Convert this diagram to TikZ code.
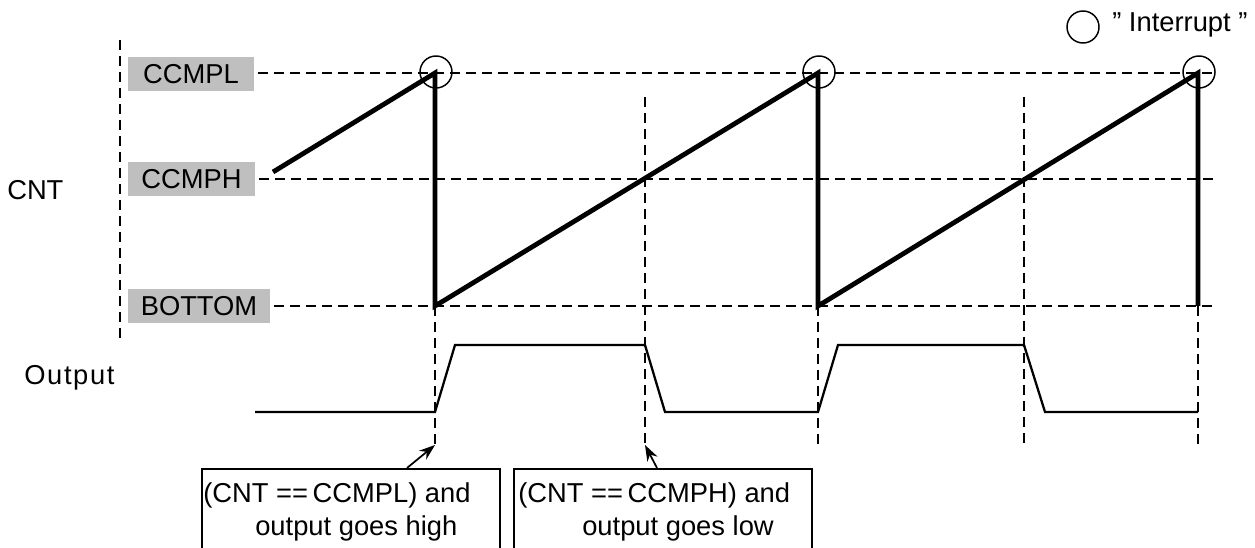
\documentclass[tikz,border=0pt]{standalone}
\usepackage{fontspec}
\setmainfont{Liberation Sans}
\usetikzlibrary{arrows.meta}
\begin{document}
\begin{tikzpicture}[x=0.75pt,y=-0.75pt,
  every node/.style={font=\fontsize{20.5}{24.6}\selectfont, inner sep=0pt},
  lvl/.style={dash pattern=on 7.5pt off 4.5pt, line width=1.35pt},
  ramp/.style={line width=3.6pt, line join=miter},
  wave/.style={line width=1.7pt},
  lab/.style={fill=black!25, minimum height=25.5pt, anchor=center},
  irq/.style={draw, circle, line width=1.1pt, minimum size=24pt},
  note/.style={draw, line width=1.2pt, anchor=north west, minimum width=223.5pt, minimum height=80pt},
  ptr/.style={line width=1.3pt, -{Stealth[length=12pt,width=8.5pt]}}
]
\useasboundingbox (0,0) rectangle (1255,548);

% left axis
\coordinate (axT) at (120,40);
\coordinate (axB) at (120,340);
\draw[lvl] (axT) -- (axB);

% level labels
\node[lab, minimum width=94.5pt] (lL) at (191,74) {CCMPL};
\node[lab, minimum width=95.25pt] (lH) at (191.5,179) {CCMPH};
\node[lab, minimum width=106.5pt] (lB) at (199,306) {BOTTOM};

\node[anchor=west] (cnt) at (7,190) {CNT};
\node[anchor=west] (out) at (24,378) {\addfontfeature{LetterSpace=6}Output};

% level lines
\coordinate (eL) at (1215,73);
\coordinate (eH) at (1215,179);
\coordinate (eB) at (1215,306);
\draw[lvl] ([xshift=3pt]lL.east |- 0,73) -- (eL);
\draw[lvl] ([xshift=3pt]lH.east |- 0,179) -- (eH);
\draw[lvl] ([xshift=3pt]lB.east |- 0,306) -- (eB);

% vertical markers
\coordinate (v1t) at (435,306);  \coordinate (v1b) at (435,445);
\coordinate (v2t) at (645,97);   \coordinate (v2b) at (645,445);
\coordinate (v3t) at (818,306);  \coordinate (v3b) at (818,445);
\coordinate (v4t) at (1024,97);  \coordinate (v4b) at (1024,445);
\coordinate (v5t) at (1198,306); \coordinate (v5b) at (1198,445);
\foreach \i in {1,...,5} \draw[lvl] (v\i t) -- (v\i b);

% counter ramp
\coordinate (r0) at (273,172);
\coordinate (p1) at (435,73);  \coordinate (q1) at (435,306);
\coordinate (p2) at (818,73);  \coordinate (q2) at (818,306);
\coordinate (p3) at (1198,73); \coordinate (q3) at (1198,306);
\draw[ramp] (r0) -- (p1) -- (q1) -- (p2) -- (q2) -- (p3) -- (q3);

% interrupt circles
\node[irq] (c1) at (436,72) {};
\node[irq] (c2) at (819,72) {};
\node[irq] (c3) at (1199,72) {};

% legend
\node[irq] (cl) at (1083,27) {};
\node[anchor=west] (lg) at (1112,25) {"\ Interrupt\ "};

% output waveform
\draw[wave] (255,412) -- (435,412) -- (455,345) -- (645,345) -- (665,412)
  -- (818,412) -- (838,345) -- (1024,345) -- (1045,412) -- (1198,412);

% note boxes
\node[note] (b1) at (201,468) {};
\node[note] (b2) at (513,468) {};
\node[anchor=base west] (b1a) at (203,502) {(CNT ==\,CCMPL) and};
\node[anchor=base west] (b1b) at (255,535) {output goes high};
\node[anchor=base west] (b2a) at (518,502) {(CNT ==\,CCMPH) and};
\node[anchor=base west] (b2b) at (582,535) {output goes low};

\coordinate (a1) at (407,468);
\coordinate (a2) at (657,468);
\draw[ptr] (a1) -- (v1b);
\draw[ptr] (a2) -- (v2b);
\end{tikzpicture}
\end{document}
